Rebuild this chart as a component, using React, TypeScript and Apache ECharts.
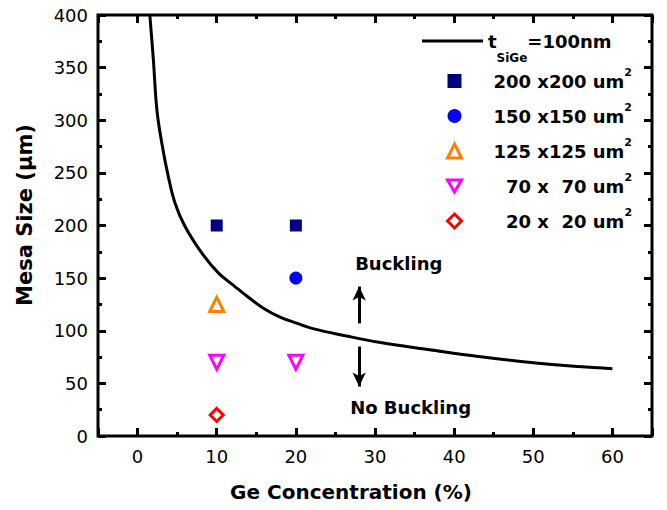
import React, { useEffect, useRef } from 'react';
import * as echarts from 'echarts';

// ---- data ----
const curveX = [1.55, 2.0, 2.44, 3.07, 3.9, 4.75, 6.0, 8.1, 10.2, 12.3, 13.8, 16, 18, 20, 22.15, 26.4, 30.5, 36.9, 43.1, 49.4, 55.7, 60];
const curveY = [400, 357, 310, 278, 246, 221, 199, 174, 155, 142, 133, 121, 113, 107.5, 102, 95, 89, 82, 75.5, 70, 66, 64];

const sizeNames = ['200 x200 um', '150 x150 um', '125 x125 um', '  70 x  70 um', '  20 x  20 um'];
const sizeX = [[10, 20], [20], [10], [10, 20], [10]];
const sizeY = [[200, 200], [150], [125], [70, 70], [20]];
const sizeColors = ['#000080', '#0000FF', '#FF8000', '#FF00FF', '#FF0000'];
const sizeSymbols = ['rect', 'circle', 'triangle', 'triangle', 'diamond'];
const sizeLegendIcons = ['rect', 'circle', 'triangle', 'path://M0,0L10,0L5,8.66Z', 'diamond'];
const sizeRotate = [0, 0, 0, 180, 0];
const sizeHollow = [false, false, true, true, true];
const sizeSymbolSize = [12, 13, 14, 14, 13];

const curveName = 'tSiGe=100nm';
const xTitle = 'Ge Concentration (%)';
const yTitle = 'Mesa Size (μm)';
const X_MIN = -5, X_MAX = 65, X_MAJOR = 10, X_MINOR = 5;
const Y_MIN = 0, Y_MAX = 400, Y_MAJOR = 50;

const xMajorTicks = [0, 10, 20, 30, 40, 50, 60];
const xMinorTicks = [5, 15, 25, 35, 45, 55];
const yMajorTicks = [50, 100, 150, 200, 250, 300, 350];
const yMinorTicks = [25, 75, 125, 175, 225, 275, 325, 375];

const arrowX = 28;
const arrowUp = [107, 142];
const arrowDown = [85, 47];
const labelBuckling = { x: 33, y: 164, text: 'Buckling' };
const labelNoBuckling = { x: 34.5, y: 27.5, text: 'No Buckling' };

const FONT = 'DejaVu Sans';
const GRID = { left: 98, right: 15, top: 15, bottom: 74 };
const W = 667, H = 510;

function xMajor(pos: string, labels: boolean): any {
  return {
    type: 'value', min: X_MIN, max: X_MAX, minInterval: X_MAJOR, maxInterval: X_MAJOR, position: pos,
    axisLine: { show: true, onZero: false, lineStyle: { color: '#000', width: 1 } },
    splitLine: { show: false },
    axisTick: { show: true, inside: true, length: 8, lineStyle: { color: '#000', width: 3 } },
    axisLabel: labels
      ? { show: true, margin: 11, fontFamily: FONT, fontSize: 18, color: '#000', formatter: (v: number) => (v % X_MAJOR === 0 ? String(v) : '') }
      : { show: false },
  };
}
function xMinor(pos: string): any {
  return {
    type: 'value', min: X_MIN, max: X_MAX, interval: X_MINOR, position: pos,
    axisLine: { show: false, onZero: false },
    splitLine: { show: false },
    axisTick: { show: true, inside: true, length: 4, lineStyle: { color: '#000', width: 3 } },
    axisLabel: { show: false },
  };
}
function yAx(pos: string, labels: boolean): any {
  return {
    type: 'value', min: Y_MIN, max: Y_MAX, interval: Y_MAJOR, position: pos,
    axisLine: { show: true, onZero: false, lineStyle: { color: '#000', width: 1 } },
    splitLine: { show: false },
    axisTick: { show: true, inside: true, length: 8, lineStyle: { color: '#000', width: 3 } },
    minorTick: { show: true, splitNumber: 2, length: 4, lineStyle: { color: '#000', width: 3 } },
    axisLabel: labels ? { show: true, margin: 10, fontFamily: FONT, fontSize: 18, color: '#000' } : { show: false },
  };
}

// tick segments (in data units along the axis scales), drawn as mark lines
function tickSegments(): any[] {
  const yPerPx = (Y_MAX - Y_MIN) / (H - GRID.top - GRID.bottom);
  const xPerPx = (X_MAX - X_MIN) / (W - GRID.left - GRID.right);
  const seg = (a: number[], b: number[]) => [{ coord: a, symbol: 'none' }, { coord: b, symbol: 'none' }];
  const out: any[] = [];
  const xt = (vals: number[], px: number) => vals.forEach(v => {
    out.push(seg([v, Y_MIN], [v, Y_MIN + px * yPerPx]));
    out.push(seg([v, Y_MAX], [v, Y_MAX - px * yPerPx]));
  });
  const yt = (vals: number[], px: number) => vals.forEach(v => {
    out.push(seg([X_MIN, v], [X_MIN + px * xPerPx, v]));
    out.push(seg([X_MAX, v], [X_MAX - px * xPerPx, v]));
  });
  xt(xMajorTicks, 8); xt(xMinorTicks, 4); yt(yMajorTicks, 8); yt(yMinorTicks, 4);
  return out;
}

export default function App() {
  const ref = useRef<HTMLDivElement>(null);
  useEffect(() => {
    const chart = echarts.init(ref.current!, null, { renderer: 'svg' });
    const scatterSeries = sizeNames.map((name, i) => ({
      type: 'scatter', name,
      data: sizeX[i].map((x, j) => [x, sizeY[i][j]]),
      symbol: sizeSymbols[i], symbolRotate: sizeRotate[i], symbolSize: sizeSymbolSize[i],
      itemStyle: sizeHollow[i]
        ? { color: '#fff', borderColor: sizeColors[i], borderWidth: 3, opacity: 1 }
        : { color: sizeColors[i], opacity: 1 },
      z: 5,
    }));

    const option: any = {
      animation: false,
      grid: { ...GRID, show: true, borderColor: '#000', borderWidth: 3, backgroundColor: 'transparent' },
      xAxis: [xMajor('bottom', true), xMajor('top', false), xMinor('bottom'), xMinor('top')],
      yAxis: [yAx('left', true), yAx('right', false)],
      graphic: [
        {
          type: 'text', x: 351, y: 492,
          style: { text: xTitle, fontFamily: FONT, fontWeight: 'bold', fontSize: 20, fill: '#000', align: 'center', verticalAlign: 'middle' },
        },
        {
          type: 'text', x: 25, y: 215, rotation: Math.PI / 2,
          style: { text: yTitle, fontFamily: FONT, fontWeight: 'bold', fontSize: 21, fill: '#000', align: 'center', verticalAlign: 'middle' },
        },
      ],
      legend: [
        {
          data: [{ name: curveName, icon: 'rect' }], left: 417, top: 27, orient: 'vertical',
          itemWidth: 61, itemHeight: 3,
          formatter: () => '{t|t}{s|SiGe}{t|=100nm}',
          textStyle: {
            rich: {
              t: { fontFamily: FONT, fontWeight: 'bold', fontSize: 18, color: '#000' },
              s: { fontFamily: FONT, fontWeight: 'bold', fontSize: 12, color: '#000', verticalAlign: 'bottom', lineHeight: 46 },
            },
          },
        },
        {
          data: sizeNames.map((n, i) => ({
            name: n,
            icon: sizeLegendIcons[i],
            itemStyle: sizeHollow[i] ? { borderWidth: 3 } : {},
          })),
          left: 441, top: 62, orient: 'vertical',
          itemWidth: 14, itemHeight: 14, itemGap: 12,
          formatter: (n: string) => `{a|${n}}{b|2}`,
          textStyle: {
            rich: {
              a: { fontFamily: FONT, fontWeight: 'bold', fontSize: 18, color: '#000', lineHeight: 28, padding: [0, 0, 0, 27] },
              b: { fontFamily: FONT, fontWeight: 'bold', fontSize: 11, color: '#000', verticalAlign: 'top' },
            },
          },
        },
      ],
      series: [
        {
          type: 'line', name: curveName,
          data: curveX.map((x, i) => [x, curveY[i]]),
          showSymbol: false, symbol: 'none', smooth: 0.4,
          lineStyle: { color: '#000', width: 3 }, itemStyle: { color: '#000' },
          z: 4,
          markLine: {
            silent: true, symbol: ['none', 'arrow'], symbolSize: [10, 14],
            lineStyle: { color: '#000', width: 3, type: 'solid' },
            label: { show: false },
            emphasis: { disabled: true },
            data: [
              [{ coord: [arrowX, arrowUp[0]] }, { coord: [arrowX, arrowUp[1]] }],
              [{ coord: [arrowX, arrowDown[0]] }, { coord: [arrowX, arrowDown[1]] }],
              ...tickSegments(),
            ],
          },
          markPoint: {
            silent: true, symbol: 'circle', symbolSize: 0,
            label: { show: true, position: 'inside', formatter: '{b}', fontFamily: FONT, fontWeight: 'bold', fontSize: 18, color: '#000' },
            data: [labelBuckling, labelNoBuckling].map(l => ({ name: l.text, coord: [l.x, l.y] })),
          },
        },
        ...scatterSeries,
      ],
    };
    chart.setOption(option);
    return () => chart.dispose();
  }, []);
  return <div ref={ref} style={{ position: 'fixed', left: 0, top: 0, width: W, height: H, background: '#fff' }} />;
}
